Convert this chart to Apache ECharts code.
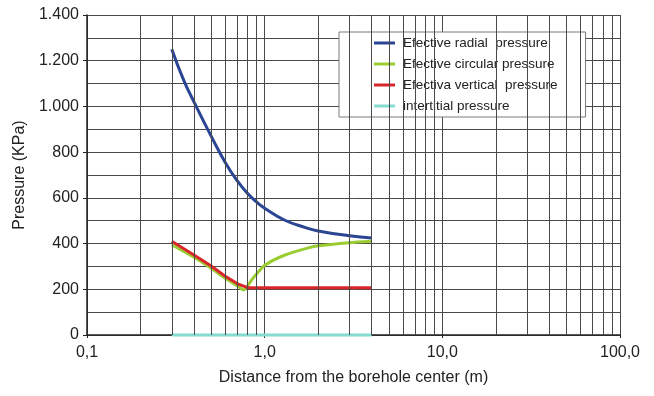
<!DOCTYPE html>
<html>
<head>
<meta charset="utf-8">
<script src="https://cdn.jsdelivr.net/npm/echarts@6/dist/echarts.min.js"></script>
<style>
  html, body { margin: 0; padding: 0; background: #fff; }
  #chart { width: 654px; height: 396px; }
</style>
</head>
<body>
<div id="chart"></div>
<script>
// Series names (legend order)
const seriesNames = [
  'Efective radial  pressure',
  'Efective circular pressure',
  'Efectiva vertical  pressure',
  'intertitial pressure'
];

// Distance from the borehole center (m) / pressure (kPa)
const radialDist = [0.3, 0.35, 0.4, 0.5, 0.6, 0.7, 0.8, 0.9, 1.0, 1.3, 1.7, 2, 3, 4];
const radialP    = [1250, 1115, 1020, 870, 755, 675, 620, 582, 555, 502, 470, 455, 434, 424];

const circDist = [0.3, 0.4, 0.5, 0.6, 0.7, 0.76, 0.85, 0.9, 1.0, 1.3, 1.7, 2, 3, 4];
const circP    = [395, 340, 292, 248, 216, 197, 244, 267, 305, 350, 378, 390, 404, 410];

const vertDist = [0.3, 0.4, 0.5, 0.6, 0.7, 0.8, 4];
const vertP    = [410, 350, 302, 257, 225, 207, 207];

const poreDist = [0.3, 4];
const poreP    = [0, 0];

// Log-axis range and the intermediate (2..9 per decade) grid lines
const xMin = 0.1, xMax = 100;
const minorGridX = [0.2, 0.3, 0.4, 0.5, 0.6, 0.7, 0.8, 0.9,
                    2, 3, 4, 5, 6, 7, 8, 9,
                    20, 30, 40, 50, 60, 70, 80, 90];
const yMax = 1400, yStep = 200;

const colors = ['#2a4593', '#9acd32', '#d9262b', '#86dccf'];
const gridColor = '#4a4a4a';
const font = 'Liberation Sans, Arial, Helvetica, sans-serif';

function pairs(xs, ys) { return xs.map((x, i) => [x, ys[i]]); }

function fmtY(v) {
  return String(v).replace(/\B(?=(\d{3})+(?!\d))/g, '.');
}
function fmtX(v) {
  return Number(v).toFixed(1).replace('.', ',');
}

const chart = echarts.init(document.getElementById('chart'), null, { renderer: 'canvas' });

const lineSeries = [
  { data: pairs(radialDist, radialP), smooth: 0.5 },
  { data: pairs(circDist, circP), smooth: 0.2 },
  { data: pairs(vertDist, vertP), smooth: false },
  { data: pairs(poreDist, poreP), smooth: false }
].map((s, i) => ({
  name: seriesNames[i],
  type: 'line',
  data: s.data,
  smooth: s.smooth,
  showSymbol: false,
  symbol: 'none',
  clip: false,
  z: 3,
  lineStyle: { color: colors[i], width: 3 },
  itemStyle: { color: colors[i] }
}));

chart.setOption({
  animation: false,
  backgroundColor: '#fff',
  textStyle: { fontFamily: font },
  grid: { left: 87, right: 34, top: 15, bottom: 61, containLabel: false },
  legend: {
    data: seriesNames,
    orient: 'vertical',
    left: 339,
    top: 32,
    padding: [4, 28, 4, 35],
    itemGap: 7,
    itemWidth: 21,
    itemHeight: 3,
    icon: 'rect',
    backgroundColor: '#fff',
    borderColor: '#7a7a7a',
    borderWidth: 1,
    textStyle: { fontFamily: font, fontSize: 13.5, color: '#222', lineHeight: 14, padding: [0, 0, 0, 3] }
  },
  xAxis: {
    type: 'log',
    logBase: 10,
    min: xMin,
    max: xMax,
    name: 'Distance from the borehole center (m)',
    nameLocation: 'middle',
    nameGap: 35,
    nameTextStyle: { fontFamily: font, fontSize: 16, color: '#222' },
    axisLine: { show: true, onZero: false, lineStyle: { color: '#222', width: 1.5 } },
    axisTick: { show: true, length: 3, lineStyle: { color: '#222' } },
    axisLabel: { formatter: fmtX, fontFamily: font, fontSize: 16, color: '#222', margin: 10 },
    splitLine: { show: true, lineStyle: { color: gridColor, width: 1 } }
  },
  yAxis: {
    type: 'value',
    min: 0,
    max: yMax,
    interval: yStep,
    name: 'Pressure (KPa)',
    nameLocation: 'middle',
    nameGap: 53,
    nameTextStyle: { fontFamily: font, fontSize: 16, color: '#222' },
    axisLine: { show: true, lineStyle: { color: '#222', width: 1.5 } },
    axisTick: { show: true, length: 4, lineStyle: { color: '#222' } },
    axisLabel: { formatter: fmtY, fontFamily: font, fontSize: 16, color: '#222', margin: 8 },
    splitLine: { show: true, lineStyle: { color: gridColor, width: 1 } },
    minorTick: { show: false, splitNumber: 2 },
    minorSplitLine: { show: true, lineStyle: { color: gridColor, width: 1 } }
  },
  series: [
    {
      name: 'grid',
      type: 'line',
      data: [],
      z: 1,
      silent: true,
      markLine: {
        silent: true,
        symbol: ['none', 'none'],
        label: { show: false },
        lineStyle: { color: gridColor, width: 1, type: 'solid' },
        emphasis: { disabled: true },
        data: minorGridX.map(v => ({ xAxis: v }))
      }
    }
  ].concat(lineSeries)
});
</script>
</body>
</html>
